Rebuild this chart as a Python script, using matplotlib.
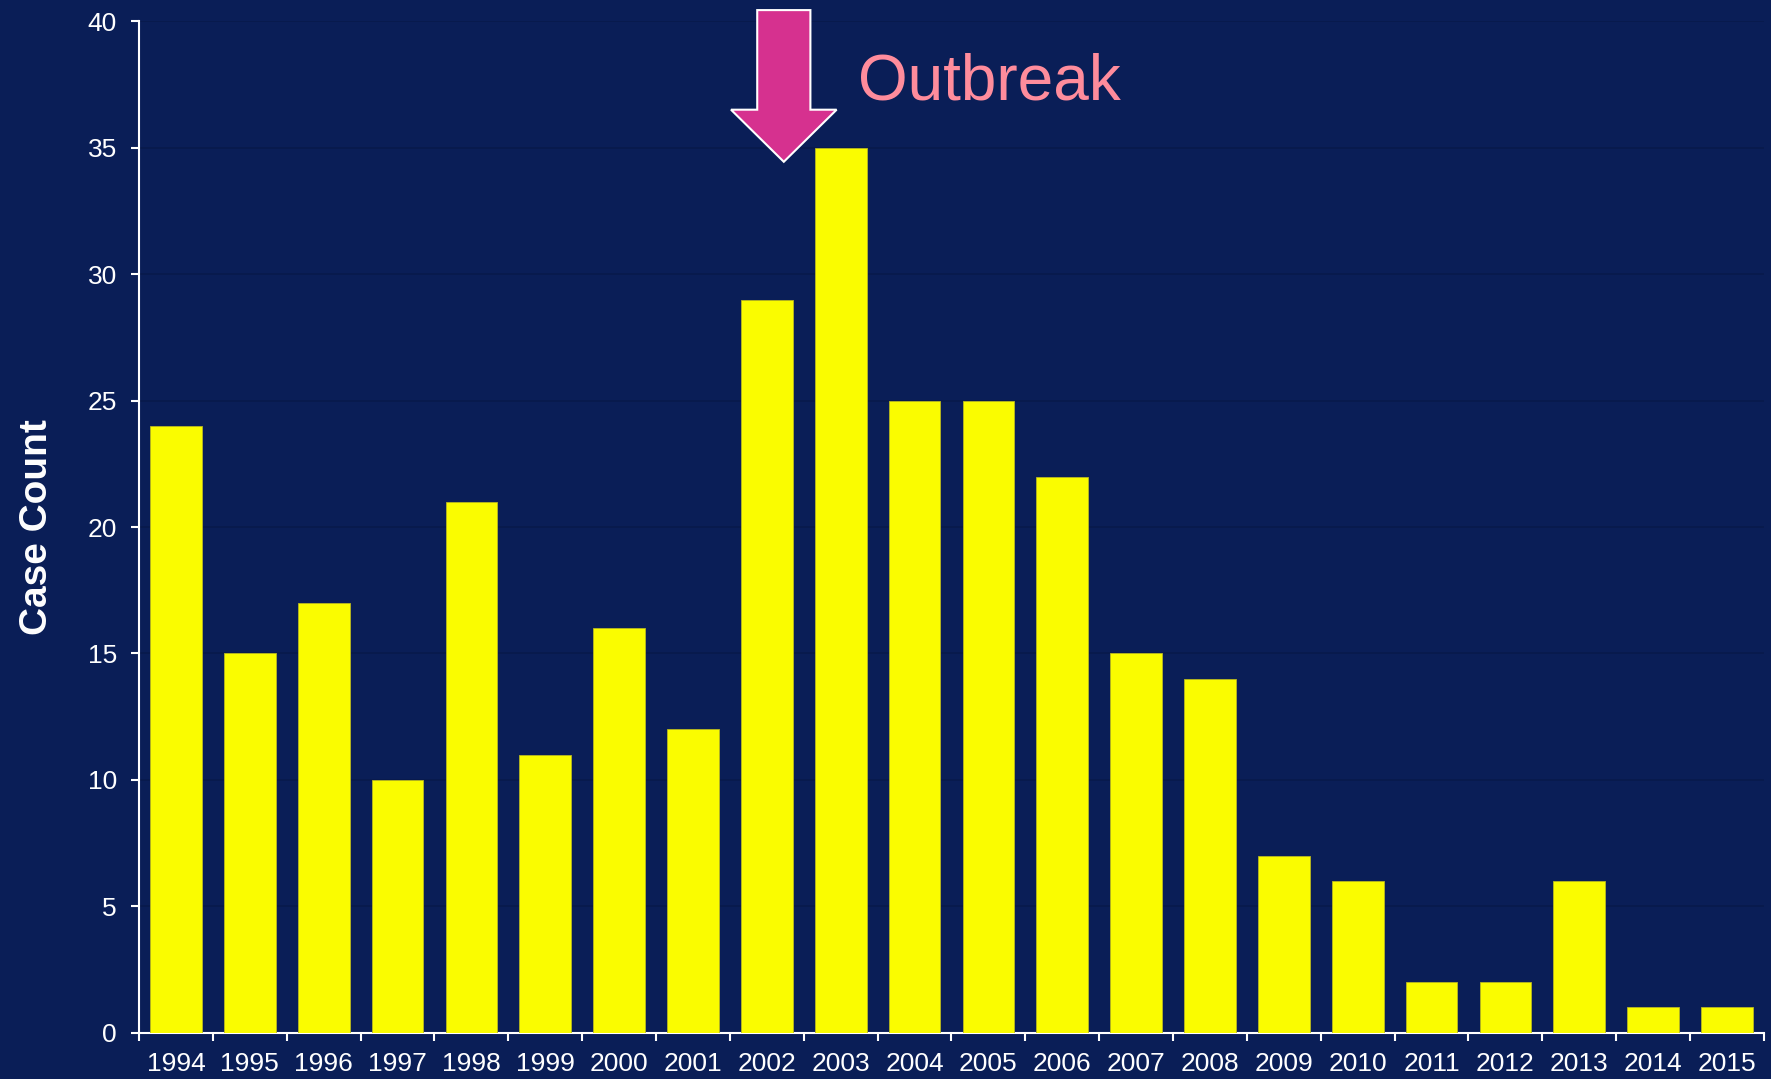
import matplotlib
matplotlib.use("Agg")
import matplotlib.pyplot as plt
from matplotlib.patches import FancyArrow

# yearly case counts
years = [str(y) for y in range(1994, 2016)]
cases = [24, 15, 17, 10, 21, 11, 16, 12, 29, 35, 25, 25, 22, 15, 14, 7, 6, 2, 2, 6, 1, 1]
y_ticks = [0, 5, 10, 15, 20, 25, 30, 35, 40]

bg = '#0a1e57'
plt.rcParams['font.family'] = ['Liberation Sans', 'DejaVu Sans']

fig = plt.figure(figsize=(17.71, 10.79), dpi=100, facecolor=bg)
ax = fig.add_axes([0.0785, 0.0429, 0.9175, 0.9372])
ax.set_facecolor(bg)

x = list(range(len(years)))
ax.bar(x, cases, width=0.70, color='#fafc00', edgecolor='#b8b820', linewidth=0.6, zorder=3)

ax.set_xlim(-0.5, len(years) - 0.5)
ax.set_ylim(0, 40)
ax.set_yticks(y_ticks)
ax.set_yticklabels([str(v) for v in y_ticks], color='white', fontsize=19)
ax.set_xticks(x)
ax.set_xticklabels(years, color='white', fontsize=19)
ax.set_xticks([i - 0.5 for i in range(len(years) + 1)], minor=True)
ax.tick_params(axis='x', which='major', length=0, pad=14)
ax.tick_params(axis='x', which='minor', length=6, width=1.5, color='white')
ax.tick_params(axis='y', length=6, width=1.5, color='white', pad=10)

ax.grid(axis='y', color='#081a4c', linewidth=1.2, zorder=0)
for side in ['top', 'right']:
    ax.spines[side].set_visible(False)
for side in ['left', 'bottom']:
    ax.spines[side].set_color('white')
    ax.spines[side].set_linewidth(1.5)

ax.set_ylabel('Case Count', color='white', fontsize=28, fontweight='bold', labelpad=23)

# outbreak arrow
arrow = FancyArrow(8.23, 40.45, 0, -6.0, width=0.72, head_width=1.43, head_length=2.06,
                   length_includes_head=True, facecolor='#d6318f', edgecolor='white',
                   linewidth=1.5, clip_on=False, zorder=5)
ax.add_patch(arrow)
ax.text(9.24, 36.9, 'Outbreak', color='#ff8c9c', fontsize=46, va='baseline', ha='left',
        clip_on=False)

fig.savefig('out.png', dpi=100, facecolor=bg)
